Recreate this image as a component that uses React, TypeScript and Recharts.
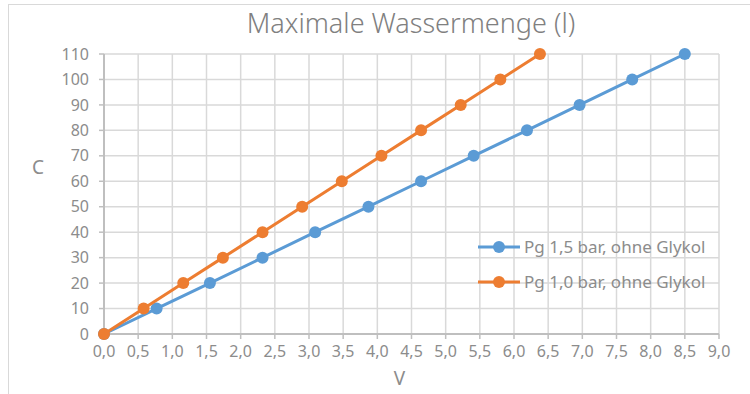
import { ScatterChart, Scatter, XAxis, YAxis, CartesianGrid, Legend, Label } from 'recharts';

// C values (y) shared by both series
const cValues = [0, 10, 20, 30, 40, 50, 60, 70, 80, 90, 100, 110];
// V values (x)
const vPg15 = [0, 0.77, 1.55, 2.32, 3.09, 3.87, 4.64, 5.41, 6.19, 6.96, 7.73, 8.5];
const vPg10 = [0, 0.58, 1.16, 1.74, 2.32, 2.9, 3.48, 4.06, 4.64, 5.22, 5.8, 6.38];
const xTicks = [0, 0.5, 1, 1.5, 2, 2.5, 3, 3.5, 4, 4.5, 5, 5.5, 6, 6.5, 7, 7.5, 8, 8.5, 9];
const yTicks = cValues;

const series = [
  { name: 'Pg 1,5 bar, ohne Glykol', color: '#5b9bd5', data: vPg15.map((v, i) => ({ v, c: cValues[i] })) },
  { name: 'Pg 1,0 bar, ohne Glykol', color: '#ed7d31', data: vPg10.map((v, i) => ({ v, c: cValues[i] })) },
];

const FONT = '"Noto Sans", sans-serif';
const TEXT = '#8c8c8c';
const GRID = '#d9d9d9';
const AXIS = '#bfbfbf';

const fmt = (v: number) => v.toFixed(1).replace('.', ',');

const Dot = (color: string) => (props: any) => (
  <circle cx={props.cx} cy={props.cy} r={6} fill={color} />
);

const LegendBox = () => (
  <div style={{ fontFamily: FONT }}>
    {series.map((s) => (
      <div key={s.name} style={{ display: 'flex', alignItems: 'center', height: 35 }}>
        <svg width={46} height={14} style={{ marginRight: 2 }}>
          <line x1={2} y1={7} x2={44} y2={7} stroke={s.color} strokeWidth={3} />
          <circle cx={23} cy={7} r={6} fill={s.color} />
        </svg>
        <span style={{ fontSize: 17, color: TEXT, whiteSpace: 'nowrap' }}>{s.name}</span>
      </div>
    ))}
  </div>
);

export default function App() {
  return (
    <div style={{ position: 'absolute', left: 0, top: 0, width: 750, height: 394, overflow: 'hidden', background: '#fff' }}>
      <div style={{ position: 'absolute', left: 8, top: 4, width: 780, height: 420, border: `1.5px solid ${GRID}` }} />
      <div style={{ position: 'absolute', left: 0, top: 4, width: 822, textAlign: 'center', fontFamily: FONT, fontSize: 27, color: '#808080', fontWeight: 300 }}>
        Maximale Wassermenge (l)
      </div>
      <div style={{ position: 'absolute', left: 0, top: 0 }}>
        <ScatterChart width={750} height={394} margin={{ top: 54, right: 31, left: 44, bottom: 20 }}>
          <CartesianGrid stroke={GRID} strokeWidth={1.5} />
          <XAxis
            type="number"
            dataKey="v"
            domain={[0, 9]}
            ticks={xTicks}
            interval={0}
            tickFormatter={fmt}
            height={40}
            stroke={AXIS}
            axisLine={{ stroke: AXIS, strokeWidth: 2 }}
            tickLine={{ stroke: AXIS, strokeWidth: 1.5 }}
            tickSize={5}
            tickMargin={7}
            tick={{ fill: TEXT, fontSize: 16, fontFamily: FONT }}
          >
            <Label value="V" position="bottom" offset={-2} dx={-12} style={{ fill: TEXT, fontSize: 19, fontFamily: FONT }} />
          </XAxis>
          <YAxis
            type="number"
            dataKey="c"
            domain={[0, 110]}
            ticks={yTicks}
            interval={0}
            width={60}
            stroke={AXIS}
            axisLine={{ stroke: AXIS, strokeWidth: 2 }}
            tickLine={{ stroke: AXIS, strokeWidth: 1.5 }}
            tickSize={5}
            tickMargin={10}
            tick={{ fill: TEXT, fontSize: 16, fontFamily: FONT }}
          >
            <Label value="C" position="left" offset={0} dy={-27} style={{ fill: TEXT, fontSize: 19, fontFamily: FONT }} />
          </YAxis>
          <Legend
            layout="vertical"
            align="center"
            verticalAlign="middle"
            content={() => <LegendBox />}
            wrapperStyle={{ left: 476, top: 229, width: 270 }}
          />
          {series.map((s) => (
            <Scatter
              key={s.name}
              name={s.name}
              data={s.data}
              fill={s.color}
              line={{ stroke: s.color, strokeWidth: 3 }}
              lineType="joint"
              shape={Dot(s.color)}
              isAnimationActive={false}
            />
          ))}
        </ScatterChart>
      </div>
    </div>
  );
}
